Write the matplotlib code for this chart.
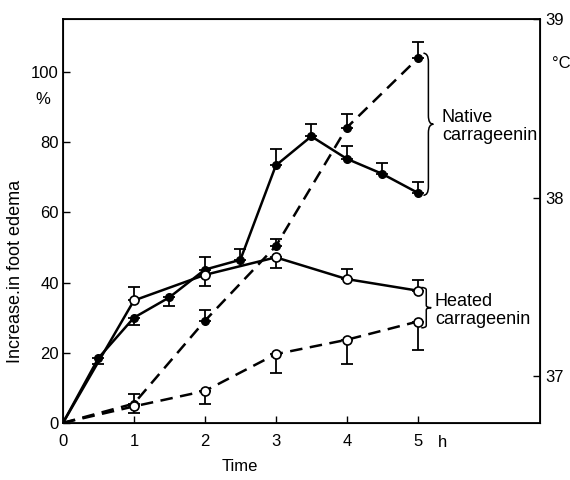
import numpy as np
import matplotlib
matplotlib.use("Agg")
import matplotlib.pyplot as plt
from matplotlib.path import Path
from matplotlib.patches import PathPatch

plt.rcParams['font.family'] = ['Liberation Sans', 'DejaVu Sans']

# native carrageenin, solid line (filled circles)
t_nat_solid = [0, 0.5, 1, 1.5, 2, 2.5, 3, 3.5, 4, 4.5, 5]
y_nat_solid = [0, 18.5, 30, 35.8, 43.7, 46.5, 73.4, 81.7, 75.3, 71.0, 65.6]
up_nat_solid = [0, 0, 0, 0, 3.7, 3, 4.8, 3.6, 3.6, 3, 3]
dn_nat_solid = [0, 1.7, 2, 2.4, 0, 0, 0, 0, 0, 0, 0]

# native carrageenin, dashed line (filled circles)
t_nat_dash = [0, 1, 2, 3, 4, 5]
y_nat_dash = [0, 5.5, 29.1, 50.4, 84.2, 103.9]
up_nat_dash = [0, 2.7, 3.2, 2, 4, 4.8]
dn_nat_dash = [0, 0, 0, 0, 0, 0]

# heated carrageenin, solid line (open circles)
t_heat_solid = [0, 1, 2, 3, 4, 5]
y_heat_solid = [0, 34.9, 42.2, 47.2, 41.0, 37.7]
up_heat_solid = [0, 3.8, 0, 0, 2.9, 3]
dn_heat_solid = [0, 0, 3.3, 3, 0, 0]

# heated carrageenin, dashed line (open circles)
t_heat_dash = [0, 1, 2, 3, 4, 5]
y_heat_dash = [0, 4.7, 9.1, 19.6, 23.7, 28.9]
up_heat_dash = [0, 0, 0, 0, 0, 0]
dn_heat_dash = [0, 2, 3.8, 5.5, 6.8, 8.1]

x_ticks = [0, 1, 2, 3, 4, 5]
y_ticks = [0, 20, 40, 60, 80, 100]
temp_ticks = [37, 38, 39]


def draw_err(ax, t, y, up, dn):
    for xi, yi, u, d in zip(t, y, up, dn):
        if u == 0 and d == 0:
            continue
        ax.errorbar([xi], [yi], yerr=[[d], [u]], fmt='none', ecolor='black',
                    elinewidth=1.3, capsize=4, capthick=1.3, zorder=2)


def brace(ax, x, y0, y1, w):
    # curly brace opening to the left, tip pointing right
    ym = (y0 + y1) / 2
    h = (y1 - y0) * 0.06
    verts = [(x - w, y1), (x, y1), (x, y1 - h),
             (x, ym + h),
             (x, ym), (x + w, ym),
             (x, ym), (x, ym - h),
             (x, y0 + h),
             (x, y0), (x - w, y0)]
    codes = [Path.MOVETO, Path.CURVE3, Path.CURVE3,
             Path.LINETO,
             Path.CURVE3, Path.CURVE3,
             Path.CURVE3, Path.CURVE3,
             Path.LINETO,
             Path.CURVE3, Path.CURVE3]
    ax.add_patch(PathPatch(Path(verts, codes), fill=False, lw=1.1, color='black'))


fig = plt.figure(figsize=(5.7, 4.8), dpi=100)
ax = fig.add_axes([0.1105, 0.119, 0.8365, 0.841])

lw = 1.8
ax.plot(t_nat_solid, y_nat_solid, '-', color='black', lw=lw, zorder=3)
ax.plot(t_nat_solid[1:], y_nat_solid[1:], 'o', color='black', ms=5.5, zorder=4)
ax.plot(t_nat_dash, y_nat_dash, '--', color='black', lw=lw, dashes=(5, 3), zorder=3)
ax.plot(t_nat_dash[1:], y_nat_dash[1:], 'o', color='black', ms=5.5, zorder=4)
ax.plot(t_heat_solid, y_heat_solid, '-', color='black', lw=lw, zorder=3)
ax.plot(t_heat_solid[1:], y_heat_solid[1:], 'o', mfc='white', mec='black', mew=1.2, ms=6.5, zorder=5)
ax.plot(t_heat_dash, y_heat_dash, '--', color='black', lw=lw, dashes=(5, 3), zorder=3)
ax.plot(t_heat_dash[1:], y_heat_dash[1:], 'o', mfc='white', mec='black', mew=1.2, ms=6.5, zorder=5)

draw_err(ax, t_nat_solid, y_nat_solid, up_nat_solid, dn_nat_solid)
draw_err(ax, t_nat_dash, y_nat_dash, up_nat_dash, dn_nat_dash)
draw_err(ax, t_heat_solid, y_heat_solid, up_heat_solid, dn_heat_solid)
draw_err(ax, t_heat_dash, y_heat_dash, up_heat_dash, dn_heat_dash)

ax.set_xlim(0, 6.72)
ax.set_ylim(0, 115.1)
ax.set_xticks(x_ticks)
ax.set_yticks(y_ticks)
ax.tick_params(direction='in', length=5, width=1, labelsize=12, pad=3)
ax.tick_params(axis='x', pad=8)
for s in ax.spines.values():
    s.set_linewidth(1.3)

ax.set_ylabel('Increase.in foot edema', fontsize=13, labelpad=2)
ax.yaxis.set_label_coords(-0.082, 0.375)
ax.set_xlabel('Time', fontsize=12, labelpad=8)
ax.xaxis.set_label_coords(0.37, -0.09)
ax.text(-0.042, 0.80, '%', transform=ax.transAxes, fontsize=12, ha='center', va='center')
ax.text(5.28, -0.0475, 'h', transform=ax.get_xaxis_transform(), fontsize=12, ha='left', va='center')

ax2 = ax.twinx()
ax2.set_ylim(36.74, 39.0)
ax2.set_yticks(temp_ticks)
ax2.tick_params(direction='in', length=5, width=1, labelsize=12, pad=4)
ax2.text(1.025, 0.89, '°C', transform=ax2.transAxes, fontsize=12, ha='left', va='center')

brace(ax, 5.15, 64.9, 105.4, 0.07)
ax.text(5.34, 84.5, 'Native\ncarrageenin', fontsize=13, ha='left', va='center', linespacing=1.05)
brace(ax, 5.12, 27.1, 38.6, 0.07)
ax.text(5.24, 32.0, 'Heated\ncarrageenin', fontsize=13, ha='left', va='center', linespacing=1.05)

fig.savefig('out.png', dpi=100)
